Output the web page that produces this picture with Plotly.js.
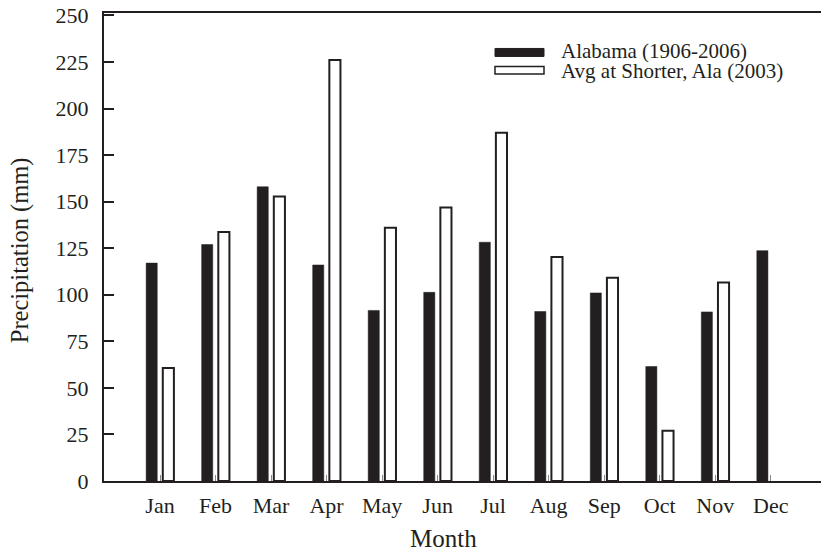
<!DOCTYPE html>
<html>
<head>
<meta charset="utf-8">
<script src="https://cdn.plot.ly/plotly-3.0.1.min.js"></script>
<style>html,body{margin:0;padding:0;background:#fff;}#chart{width:821px;height:557px;}</style>
</head>
<body>
<div id="chart"></div>
<script>
const months = ["Jan","Feb","Mar","Apr","May","Jun","Jul","Aug","Sep","Oct","Nov","Dec"];
const alabama = [117, 127, 158, 116, 91.6, 101.3, 128.2, 91, 101, 61.5, 90.8, 123.7];
const shorter = [60.7, 133.7, 152.7, 226, 136, 146.8, 187, 120.3, 109.1, 27, 106.6, null];
const seriesNames = ["Alabama (1906-2006)", "Avg at Shorter, Ala (2003)"];
const yTicks = [0, 25, 50, 75, 100, 125, 150, 175, 200, 225, 250];
const xTitle = "Month";
const yTitle = "Precipitation (mm)";

const ink = "#231f20";
const fontFam = "Liberation Serif, Times New Roman, serif";
const W = 717, H = 468.5, L = 104, T = 12.5;
const px = v => (v - L) / W;
const py = v => 1 - (v - T) / H;

const traces = [
  {type: "bar", x: months, y: alabama, name: seriesNames[0],
   marker: {color: ink, line: {color: ink, width: 0.5}}},
  {type: "bar", x: months, y: shorter, name: seriesNames[1],
   marker: {color: "#ffffff", line: {color: ink, width: 2}}}
];

const layout = {
  width: 821, height: 557, autosize: false,
  margin: {l: L, r: 0, t: T, b: 76, pad: 0},
  paper_bgcolor: "#fff", plot_bgcolor: "#fff",
  barmode: "group", bargap: 0.4, bargroupgap: 0.333,
  showlegend: false,
  font: {family: fontFam, color: ink, size: 21},
  xaxis: {
    type: "category", range: [-1.009, 11.906],
    showline: true, linecolor: ink, linewidth: 2, mirror: true,
    ticks: "inside", ticklen: 6, tickwidth: 1, tickcolor: "#888",
    ticklabelstandoff: 4,
    tickfont: {family: fontFam, size: 22, color: ink},
    showgrid: false, zeroline: false
  },
  yaxis: {
    range: [0, 251.3], tickvals: yTicks, ticktext: yTicks.map(String),
    showline: true, linecolor: ink, linewidth: 2,
    ticks: "inside", ticklen: 10, tickwidth: 2, tickcolor: ink,
    ticklabelstandoff: 9,
    tickfont: {family: fontFam, size: 22, color: ink},
    showgrid: false, zeroline: false
  },
  shapes: [
    {type: "rect", xref: "paper", yref: "paper",
     x0: px(495), x1: px(544), y0: py(56), y1: py(48),
     fillcolor: ink, line: {color: ink, width: 1}},
    {type: "rect", xref: "paper", yref: "paper",
     x0: px(495), x1: px(544), y0: py(73.5), y1: py(66),
     fillcolor: "#fff", line: {color: ink, width: 1.5}}
  ],
  annotations: [
    {xref: "paper", yref: "paper", x: px(559), y: py(50.5),
     xanchor: "left", yanchor: "middle", showarrow: false, text: seriesNames[0],
     font: {family: fontFam, size: 21, color: ink}},
    {xref: "paper", yref: "paper", x: px(559), y: py(70.5),
     xanchor: "left", yanchor: "middle", showarrow: false, text: seriesNames[1],
     font: {family: fontFam, size: 21, color: ink}},
    {xref: "paper", yref: "paper", x: px(443), y: py(539),
     xanchor: "center", yanchor: "middle", showarrow: false, text: xTitle,
     font: {family: fontFam, size: 25, color: ink}},
    {xref: "paper", yref: "paper", x: px(20), y: py(250),
     xanchor: "center", yanchor: "middle", showarrow: false, text: yTitle, textangle: -90,
     font: {family: fontFam, size: 24.5, color: ink}}
  ]
};

Plotly.newPlot("chart", traces, layout, {displayModeBar: false, staticPlot: true});
</script>
</body>
</html>
